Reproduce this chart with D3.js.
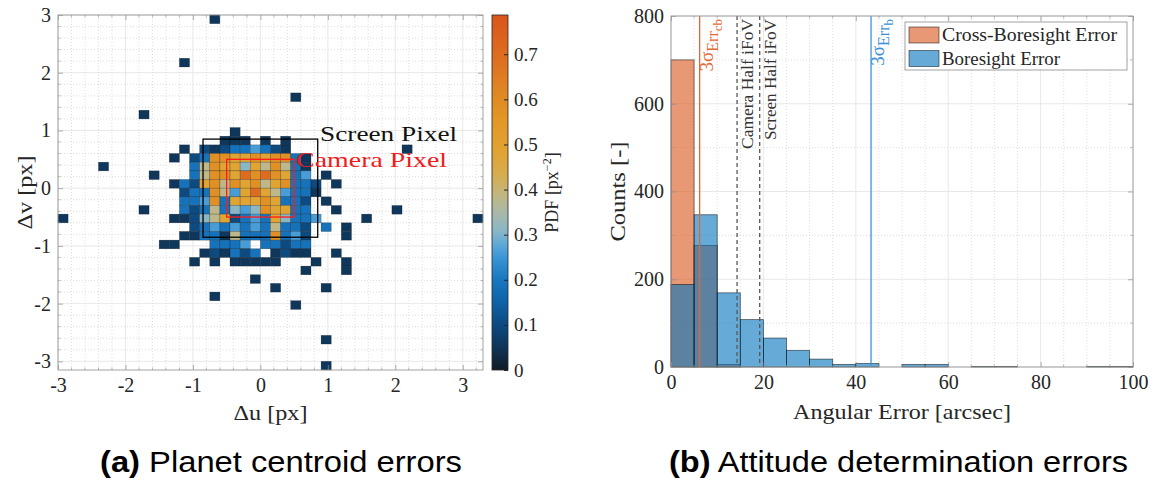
<!DOCTYPE html>
<html>
<head>
<meta charset="utf-8">
<script src="https://cdn.jsdelivr.net/npm/d3@7"></script>
<style>
  body { margin: 0; background: #fff; }
  text { font-family: "Liberation Serif", serif; fill: #262626; }
  .cap { font-family: "Liberation Sans", sans-serif; fill: #000; }
</style>
</head>
<body>
<svg id="fig" width="1154" height="483"></svg>
<script>
// ---------- (a) planet centroid errors : 2D histogram (bins of 0.15 px) ----------
var binW = 0.15;
// pdf levels
var N = 0.055, D = 0.10, B = 0.19, L = 0.26, G = 0.31, T = 0.38, Y = 0.48, O = 0.58, R = 0.70;
// [column index, row index, pdf]  (bin = [i*binW, (i+1)*binW])
var cells = [
  [-5,19,N], [-8,14,N], [3,10,N], [-12,8,N],
  [-3,6,N],
  [-4,5,N], [-3,5,N], [-2,5,N], [0,5,N], [2,5,N],
  [-8,4,N], [-6,4,D], [-5,4,N], [-4,4,D], [-3,4,B], [-2,4,B], [-1,4,L], [0,4,B], [1,4,D], [2,4,N], [14,4,N],
  [-9,3,N], [-7,3,D], [-6,3,B], [-5,3,O], [-4,3,O], [-3,3,Y], [-2,3,Y], [-1,3,O], [0,3,Y], [1,3,O], [2,3,O], [3,3,B], [4,3,N],
  [-16,2,N], [-7,2,B], [-6,2,T], [-5,2,O], [-4,2,Y], [-3,2,Y], [-2,2,G], [-1,2,Y], [0,2,T], [1,2,O], [2,2,T], [3,2,B], [4,2,N],
  [-11,1,N], [-7,1,B], [-6,1,T], [-5,1,O], [-4,1,O], [-3,1,Y], [-2,1,R], [-1,1,O], [0,1,R], [1,1,O], [2,1,Y], [3,1,B], [4,1,L], [6,1,N],
  [-9,0,N], [-8,0,B], [-7,0,D], [-6,0,Y], [-5,0,O], [-4,0,T], [-3,0,O], [-2,0,Y], [-1,0,O], [0,0,T], [1,0,Y], [2,0,O], [3,0,B], [4,0,B], [5,0,D], [7,0,N],
  [-8,-1,D], [-7,-1,B], [-6,-1,B], [-5,-1,O], [-4,-1,T], [-3,-1,L], [-2,-1,Y], [-1,-1,R], [0,-1,Y], [1,-1,T], [2,-1,L], [3,-1,B], [4,-1,B], [5,-1,N],
  [-8,-2,B], [-7,-2,B], [-6,-2,L], [-5,-2,O], [-4,-2,B], [-3,-2,Y], [-2,-2,Y], [-1,-2,Y], [0,-2,O], [1,-2,Y], [2,-2,B], [3,-2,B], [4,-2,D], [6,-2,N],
  [-12,-3,N], [-8,-3,B], [-7,-3,D], [-6,-3,B], [-5,-3,T], [-4,-3,B], [-3,-3,G], [-2,-3,L], [-1,-3,G], [0,-3,O], [1,-3,Y], [2,-3,Y], [3,-3,B], [4,-3,B], [7,-3,N], [13,-3,N],
  [-20,-4,N], [-9,-4,N], [-8,-4,N], [-7,-4,D], [-6,-4,G], [-5,-4,T], [-4,-4,Y], [-3,-4,D], [-2,-4,B], [-1,-4,L], [0,-4,B], [1,-4,Y], [2,-4,G], [3,-4,B], [4,-4,B], [5,-4,L], [10,-4,N], [21,-4,N],
  [-7,-5,D], [-6,-5,B], [-5,-5,L], [-4,-5,B], [-3,-5,L], [-2,-5,B], [-1,-5,L], [0,-5,B], [1,-5,T], [2,-5,B], [3,-5,B], [4,-5,D], [6,-5,B], [8,-5,N],
  [-8,-6,N], [-7,-6,N], [-6,-6,B], [-5,-6,B], [-4,-6,N], [-3,-6,T], [-2,-6,B], [-1,-6,B], [0,-6,B], [1,-6,O], [2,-6,B], [3,-6,L], [4,-6,D], [8,-6,N],
  [-10,-7,N], [-9,-7,N], [-5,-7,B], [-4,-7,B], [-3,-7,B], [-2,-7,L], [0,-7,B], [1,-7,B], [2,-7,D], [3,-7,B], [4,-7,B],
  [-6,-8,N], [-5,-8,D], [-4,-8,N], [-3,-8,B], [-2,-8,D], [-1,-8,B], [1,-8,N], [2,-8,D], [3,-8,N], [4,-8,N], [7,-8,N],
  [-7,-9,N], [-5,-9,N], [-3,-9,N], [-2,-9,N], [-1,-9,N], [0,-9,N], [1,-9,N], [5,-9,N], [8,-9,N],
  [4,-10,N], [8,-10,N],
  [-1,-11,N], [1,-12,N], [6,-12,N], [-5,-13,N], [3,-14,N], [6,-18,N], [6,-21,N]
];
var uTicks = [-3, -2, -1, 0, 1, 2, 3];
var vTicks = [-3, -2, -1, 0, 1, 2, 3];
var pdfTicks = [0, 0.1, 0.2, 0.3, 0.4, 0.5, 0.6, 0.7];
var pdfMax = 0.787;
var screenHalf = 0.85, cameraHalf = 0.5;

// colour map of the PDF
var cmapStops  = [0, 0.05, 0.10, 0.15, 0.20, 0.25, 0.28, 0.31, 0.35, 0.39, 0.43, 0.48, 0.55, 0.62, 0.70, 0.787];
var cmapColors = ["#111a24", "#0f3558", "#0c4a80", "#0f62a6", "#1877c0", "#3b96d6", "#62aad6", "#8bb7c5",
                  "#aab9a8", "#c3b67e", "#d5ad52", "#e0a435", "#e29827", "#df8623", "#dd6c20", "#d9561b"];

// ---------- (b) attitude determination errors : histograms (bins of 5 arcsec) ----------
var binEdges = [0, 5, 10, 15, 20, 25, 30, 35, 40, 45, 50, 55, 60, 65, 70, 75, 80, 85, 90, 95, 100];
var crossCounts = [700, 277, 6, 0, 0, 0, 0, 0, 0, 0, 0, 0, 0, 0, 0, 0, 0, 0, 0, 0];
var boreCounts  = [188, 347, 169, 108, 66, 38, 18, 6, 8, 0, 6, 6, 0, 1, 1, 0, 0, 0, 1, 1];
var errTicks = [0, 20, 40, 60, 80, 100];
var countTicks = [0, 200, 400, 600, 800];
var sigmaCross = 6.2, sigmaBore = 43.3, cameraIfov = 14.3, screenIfov = 19.2;

var svg = d3.select("#fig");
var fmt = function(d) { return String(d); };

function frame(g, x, y, xMinor, yMinor) {
  var x0 = x.range()[0], x1 = x.range()[1], y0 = y.range()[1], y1 = y.range()[0];
  // minor grid
  g.selectAll(null).data(xMinor).enter().append("line")
    .attr("x1", x).attr("x2", x).attr("y1", y0).attr("y2", y1)
    .attr("stroke", "#c8c8c8").attr("stroke-dasharray", "1,2").attr("stroke-width", 0.6);
  g.selectAll(null).data(yMinor).enter().append("line")
    .attr("y1", y).attr("y2", y).attr("x1", x0).attr("x2", x1)
    .attr("stroke", "#c8c8c8").attr("stroke-dasharray", "1,2").attr("stroke-width", 0.6);
  // major grid
  g.selectAll(null).data(x.tv).enter().append("line")
    .attr("x1", x).attr("x2", x).attr("y1", y0).attr("y2", y1)
    .attr("stroke", "#e2e2e2").attr("stroke-width", 0.8);
  g.selectAll(null).data(y.tv).enter().append("line")
    .attr("y1", y).attr("y2", y).attr("x1", x0).attr("x2", x1)
    .attr("stroke", "#e2e2e2").attr("stroke-width", 0.8);
}

function axesOn(g, x, y, xMinor, yMinor, fs) {
  var x0 = x.range()[0], x1 = x.range()[1], y0 = y.range()[1], y1 = y.range()[0];
  var ax;
  ax = g.append("g").attr("transform", "translate(0," + y1 + ")")
    .call(d3.axisBottom(x).tickValues(x.tv).tickFormat(fmt).tickSizeInner(-5).tickSizeOuter(0).tickPadding(8));
  ax.selectAll("text").style("font-size", fs + "px");
  ax = g.append("g").attr("transform", "translate(" + x0 + ",0)")
    .call(d3.axisLeft(y).tickValues(y.tv).tickFormat(fmt).tickSizeInner(-5).tickSizeOuter(0).tickPadding(7));
  ax.selectAll("text").style("font-size", fs + "px");
  g.append("g").attr("transform", "translate(0," + y0 + ")")
    .call(d3.axisTop(x).tickValues(x.tv).tickFormat("").tickSizeInner(-5).tickSizeOuter(0));
  g.append("g").attr("transform", "translate(" + x1 + ",0)")
    .call(d3.axisRight(y).tickValues(y.tv).tickFormat("").tickSizeInner(-5).tickSizeOuter(0));
  // minor ticks
  [[xMinor, y1, -2.5], [xMinor, y0, 2.5]].forEach(function(s) {
    g.selectAll(null).data(s[0]).enter().append("line")
      .attr("x1", x).attr("x2", x).attr("y1", s[1]).attr("y2", s[1] + s[2])
      .attr("stroke", "#8c8c8c").attr("stroke-width", 0.6);
  });
  [[yMinor, x0, 2.5], [yMinor, x1, -2.5]].forEach(function(s) {
    g.selectAll(null).data(s[0]).enter().append("line")
      .attr("y1", y).attr("y2", y).attr("x1", s[1]).attr("x2", s[1] + s[2])
      .attr("stroke", "#8c8c8c").attr("stroke-width", 0.6);
  });
  g.selectAll(".domain").remove();
  g.selectAll(".tick line").attr("stroke", "#8c8c8c").attr("stroke-width", 0.7);
  g.selectAll(".tick text").attr("fill", "#262626");
  g.append("rect").attr("x", x0).attr("y", y0).attr("width", x1 - x0).attr("height", y1 - y0)
    .attr("fill", "none").attr("stroke", "#9a9a9a").attr("stroke-width", 0.9);
}

// ================= panel (a) =================
var xa = d3.scaleLinear().domain([-3, 3.3]).range([58, 483]);
var ya = d3.scaleLinear().domain([-3.15, 3]).range([370, 15]);
xa.tv = uTicks; ya.tv = vTicks;
var uMinor = d3.range(-3, 3.31, 0.2).filter(function(d) { return Math.abs(d - Math.round(d)) > 1e-6; });
var vMinor = d3.range(-3.0, 3.01, 0.2).filter(function(d) { return Math.abs(d - Math.round(d)) > 1e-6; });

var cmap = d3.scaleLinear().domain(cmapStops).range(cmapColors).interpolate(d3.interpolateRgb).clamp(true);

var ga = svg.append("g");
frame(ga, xa, ya, uMinor, vMinor);
ga.append("g").selectAll("rect").data(cells).enter().append("rect")
  .attr("x", function(d) { return xa(d[0] * binW); })
  .attr("y", function(d) { return ya((d[1] + 1) * binW); })
  .attr("width", function(d) { return xa((d[0] + 1) * binW) - xa(d[0] * binW); })
  .attr("height", function(d) { return ya(d[1] * binW) - ya((d[1] + 1) * binW); })
  .attr("fill", function(d) { return cmap(d[2]); })
  .attr("stroke", "rgba(0,0,0,0.45)").attr("stroke-width", 0.5);

ga.append("rect")
  .attr("x", xa(-screenHalf)).attr("y", ya(screenHalf))
  .attr("width", xa(screenHalf) - xa(-screenHalf)).attr("height", ya(-screenHalf) - ya(screenHalf))
  .attr("fill", "none").attr("stroke", "#000").attr("stroke-width", 1.3);
ga.append("rect")
  .attr("x", xa(-cameraHalf)).attr("y", ya(cameraHalf))
  .attr("width", xa(cameraHalf) - xa(-cameraHalf)).attr("height", ya(-cameraHalf) - ya(cameraHalf))
  .attr("fill", "none").attr("stroke", "#ff1a1a").attr("stroke-width", 1.3);
ga.append("text").attr("x", xa(0.885)).attr("y", ya(0.82))
  .attr("textLength", 137).attr("lengthAdjust", "spacingAndGlyphs")
  .style("font-size", "22px").style("fill", "#111").text("Screen Pixel");
ga.append("text").attr("x", xa(0.53)).attr("y", ya(0.37))
  .attr("textLength", 151).attr("lengthAdjust", "spacingAndGlyphs")
  .style("font-size", "22px").style("fill", "#ee1c1c").text("Camera Pixel");

axesOn(ga, xa, ya, uMinor, vMinor, 20);

ga.append("text").attr("x", (xa.range()[0] + xa.range()[1]) / 2).attr("y", 420)
  .attr("text-anchor", "middle").attr("textLength", 74).attr("lengthAdjust", "spacingAndGlyphs")
  .style("font-size", "21px").text("Δu [px]");
ga.append("text").attr("transform", "translate(32," + (ya.range()[0] + ya.range()[1]) / 2 + ") rotate(-90)")
  .attr("text-anchor", "middle").attr("textLength", 74).attr("lengthAdjust", "spacingAndGlyphs")
  .style("font-size", "21px").text("Δv [px]");

// colour bar
var cb = d3.scaleLinear().domain([0, pdfMax]).range([370, 15]);
var cbx0 = 492, cbx1 = 508;
var grad = svg.append("defs").append("linearGradient").attr("id", "cbg")
  .attr("x1", 0).attr("y1", 1).attr("x2", 0).attr("y2", 0);
grad.selectAll("stop").data(cmapStops).enter().append("stop")
  .attr("offset", function(d) { return d / pdfMax; })
  .attr("stop-color", function(d, i) { return cmapColors[i]; });
var gcb = svg.append("g");
gcb.append("rect").attr("x", cbx0).attr("y", cb(pdfMax)).attr("width", cbx1 - cbx0)
  .attr("height", cb(0) - cb(pdfMax)).attr("fill", "url(#cbg)").attr("stroke", "#262626").attr("stroke-width", 0.8);
var cax = gcb.append("g").attr("transform", "translate(" + cbx1 + ",0)")
  .call(d3.axisRight(cb).tickValues(pdfTicks).tickFormat(fmt).tickSizeInner(-4).tickSizeOuter(0).tickPadding(6));
cax.select(".domain").remove();
cax.selectAll(".tick line").attr("stroke", "#262626");
cax.selectAll("text").style("font-size", "19px").attr("fill", "#262626");
var pl = gcb.append("text").attr("transform", "translate(558," + (cb.range()[0] + cb.range()[1]) / 2 + ") rotate(-90)")
  .attr("text-anchor", "middle").style("font-size", "18px");
pl.append("tspan").text("PDF [px");
pl.append("tspan").attr("dy", -7).style("font-size", "12px").text("−2");
pl.append("tspan").attr("dy", 7).text("]");

// ================= panel (b) =================
var xb = d3.scaleLinear().domain([0, 100]).range([671, 1133]);
var yb = d3.scaleLinear().domain([0, 800]).range([367, 16]);
xb.tv = errTicks; yb.tv = countTicks;
var eMinor = d3.range(5, 100, 5).filter(function(d) { return d % 20 !== 0; });
var cMinor = d3.range(100, 800, 200);

var gb = svg.append("g");
frame(gb, xb, yb, eMinor, cMinor);

function bars(counts, fill) {
  var data = counts.map(function(c, i) { return { a: binEdges[i], b: binEdges[i + 1], c: c }; })
    .filter(function(d) { return d.c > 0; });
  gb.append("g").selectAll("rect").data(data).enter().append("rect")
    .attr("x", function(d) { return xb(d.a); })
    .attr("y", function(d) { return yb(d.c); })
    .attr("width", function(d) { return xb(d.b) - xb(d.a); })
    .attr("height", function(d) { return yb(0) - yb(d.c); })
    .attr("fill", fill).attr("stroke", "rgba(0,0,0,0.6)").attr("stroke-width", 0.8);
}
bars(crossCounts, "rgba(217,83,25,0.6)");
bars(boreCounts, "rgba(0,114,189,0.6)");

function vline(v, color, dash) {
  gb.append("line").attr("x1", xb(v)).attr("x2", xb(v)).attr("y1", yb(800)).attr("y2", yb(0))
    .attr("stroke", color).attr("stroke-width", 1.3).attr("stroke-dasharray", dash);
}
vline(sigmaCross, "#dd6a35", null);
vline(cameraIfov, "#555", "4,3");
vline(screenIfov, "#555", "4,3");
vline(sigmaBore, "#3b95dc", null);

function sigmaLabel(v, color, sub) {
  var t = gb.append("text").attr("transform", "translate(" + (xb(v) + 13) + "," + (yb(800) + 3) + ") rotate(-90)")
    .attr("text-anchor", "end").style("font-size", "19px").style("fill", color);
  t.append("tspan").text("3σ");
  t.append("tspan").attr("dy", 5).style("font-size", "16px").text("Err");
  t.append("tspan").attr("dy", 4).style("font-size", "13px").text(sub);
}
sigmaLabel(sigmaCross, "#e36a36", "cb");
sigmaLabel(sigmaBore, "#3a90d8", "b");
[[cameraIfov, "Camera Half iFoV", 130], [screenIfov, "Screen Half iFoV", 121]].forEach(function(s) {
  gb.append("text").attr("transform", "translate(" + (xb(s[0]) + 16) + "," + (yb(800) + 3) + ") rotate(-90)")
    .attr("text-anchor", "end").attr("textLength", s[2]).attr("lengthAdjust", "spacingAndGlyphs")
    .style("font-size", "17px").style("fill", "#333").text(s[1]);
});

axesOn(gb, xb, yb, eMinor, cMinor, 20);

gb.append("text").attr("x", (xb.range()[0] + xb.range()[1]) / 2).attr("y", 419)
  .attr("text-anchor", "middle").attr("textLength", 218).attr("lengthAdjust", "spacingAndGlyphs")
  .style("font-size", "21px").text("Angular Error [arcsec]");
gb.append("text").attr("transform", "translate(625," + (yb.range()[0] + yb.range()[1]) / 2 + ") rotate(-90)")
  .attr("text-anchor", "middle").attr("textLength", 100).attr("lengthAdjust", "spacingAndGlyphs")
  .style("font-size", "21px").text("Counts [-]");

// legend
var series = ["Cross-Boresight Error", "Boresight Error"];
var seriesFill = ["rgba(217,83,25,0.6)", "rgba(0,114,189,0.6)"];
var lg = gb.append("g");
lg.append("rect").attr("x", 905).attr("y", 22).attr("width", 222).attr("height", 48)
  .attr("fill", "#fff").attr("stroke", "#8a8a8a").attr("stroke-width", 0.8);
series.forEach(function(s, i) {
  lg.append("rect").attr("x", 909).attr("y", 27 + i * 23.5).attr("width", 30).attr("height", 16)
    .attr("fill", seriesFill[i]).attr("stroke", "rgba(0,0,0,0.6)").attr("stroke-width", 0.8);
  lg.append("text").attr("x", 942).attr("y", 41 + i * 23.5)
    .attr("textLength", i === 0 ? 175 : 118).attr("lengthAdjust", "spacingAndGlyphs")
    .style("font-size", "18px").style("fill", "#262626").text(s);
});

// captions
var c1 = svg.append("text").attr("class", "cap").attr("x", 100).attr("y", 472)
  .attr("textLength", 362).attr("lengthAdjust", "spacingAndGlyphs").style("font-size", "29px");
c1.append("tspan").style("font-weight", "bold").text("(a)");
c1.append("tspan").text(" Planet centroid errors");
var c2 = svg.append("text").attr("class", "cap").attr("x", 669).attr("y", 472)
  .attr("textLength", 459).attr("lengthAdjust", "spacingAndGlyphs").style("font-size", "29px");
c2.append("tspan").style("font-weight", "bold").text("(b)");
c2.append("tspan").text(" Attitude determination errors");
</script>
</body>
</html>
